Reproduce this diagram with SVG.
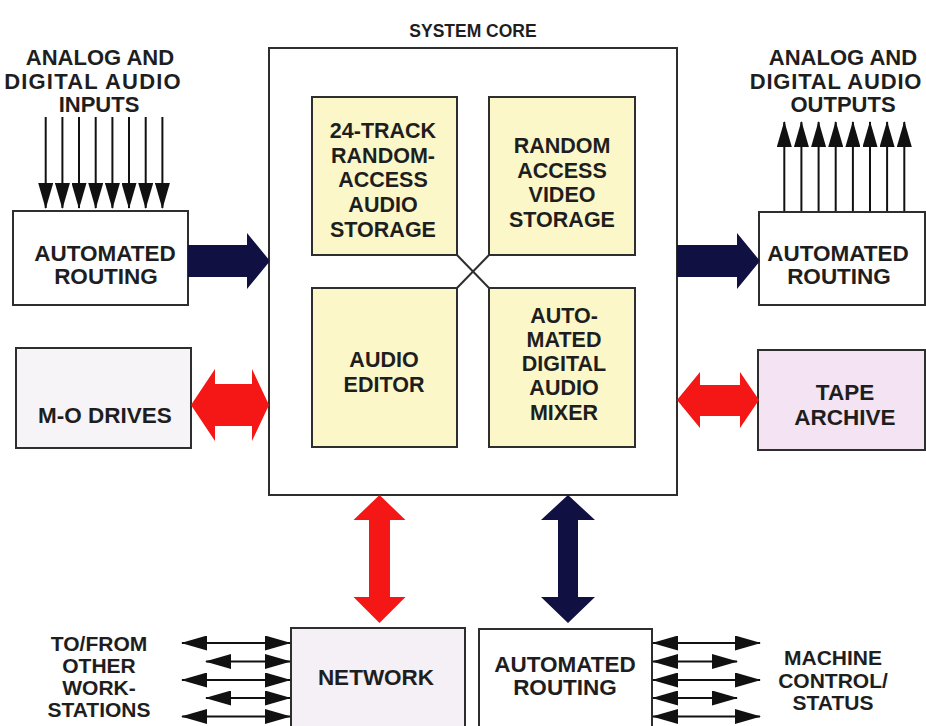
<svg xmlns="http://www.w3.org/2000/svg" width="926" height="726" viewBox="0 0 926 726">
<defs>
<style>
text{font-family:"Liberation Sans",Arial,sans-serif;font-weight:bold;fill:#1e1e1e;text-anchor:middle}
.t22{font-size:22.5px}
.t21{font-size:21.5px}
.lbl{font-size:22px}
.lbs{font-size:21px}
.box{stroke:#2e2e2e;stroke-width:2}
.inner{fill:#fbf7c8;stroke:#2e2e2e;stroke-width:2}
.ln{stroke:#111;stroke-width:2;fill:none}
.red{fill:#f51616}
.navy{fill:#101042}
</style>
<marker id="ah" markerUnits="userSpaceOnUse" markerWidth="26" markerHeight="15" refX="25" refY="7.5" orient="auto-start-reverse" viewBox="0 0 26 15">
<path d="M0,0 L26,7.5 L0,15 z" fill="#111"/>
</marker>
</defs>
<rect width="926" height="726" fill="#ffffff"/>

<g id="labels">
<text x="473" y="37" style="font-size:17.5px">SYSTEM CORE</text>
<text class="lbl" x="100" y="65">ANALOG AND</text>
<text class="lbl" x="93" y="88.5" letter-spacing="1.2">DIGITAL AUDIO</text>
<text class="lbl" x="99" y="112">INPUTS</text>
<text class="lbl" x="843" y="65">ANALOG AND</text>
<text class="lbl" x="836" y="88.5" letter-spacing="0.8">DIGITAL AUDIO</text>
<text class="lbl" x="843" y="112">OUTPUTS</text>
<text class="lbs" x="99" y="651">TO/FROM</text>
<text class="lbs" x="99" y="673">OTHER</text>
<text class="lbs" x="99" y="695">WORK-</text>
<text class="lbs" x="99" y="717">STATIONS</text>
<text class="lbs" x="833" y="665">MACHINE</text>
<text class="lbs" x="833" y="687.5">CONTROL/</text>
<text class="lbs" x="833" y="710">STATUS</text>
</g>

<g id="core">
<rect class="box" x="269" y="48" width="408" height="447" fill="#ffffff"/>
</g>

<g id="audio-storage">
<rect class="inner" x="312" y="97" width="145" height="158"/>
<text class="t21" x="383" y="138">24-TRACK</text>
<text class="t21" x="383" y="162.5">RANDOM-</text>
<text class="t21" x="383" y="187">ACCESS</text>
<text class="t21" x="383" y="212">AUDIO</text>
<text class="t21" x="383" y="237">STORAGE</text>
</g>
<g id="video-storage">
<rect class="inner" x="489" y="97" width="146" height="158"/>
<text class="t21" x="562" y="153">RANDOM</text>
<text class="t21" x="562" y="177.5">ACCESS</text>
<text class="t21" x="562" y="202">VIDEO</text>
<text class="t21" x="562" y="227">STORAGE</text>
</g>
<g id="audio-editor">
<rect class="inner" x="312" y="288" width="145" height="159"/>
<text class="t21" x="384" y="367">AUDIO</text>
<text class="t21" x="384" y="392">EDITOR</text>
</g>
<g id="mixer">
<rect class="inner" x="489" y="288" width="146" height="159"/>
<text class="t21" x="564" y="323">AUTO-</text>
<text class="t21" x="564" y="347">MATED</text>
<text class="t21" x="564" y="371">DIGITAL</text>
<text class="t21" x="564" y="395">AUDIO</text>
<text class="t21" x="564" y="420">MIXER</text>
</g>

<g id="routing-in">
<rect class="box" x="13" y="211" width="175" height="94" fill="#ffffff"/>
<text class="t22" x="105" y="261">AUTOMATED</text>
<text class="t22" x="106" y="284">ROUTING</text>
</g>
<g id="routing-out">
<rect class="box" x="759" y="212" width="166" height="93" fill="#ffffff"/>
<text class="t22" x="838" y="261">AUTOMATED</text>
<text class="t22" x="839" y="284">ROUTING</text>
</g>
<g id="mo-drives">
<rect class="box" x="16" y="348" width="175" height="100" fill="#f7f4f8"/>
<text class="t22" x="105" y="423">M-O DRIVES</text>
</g>
<g id="tape-archive">
<rect class="box" x="758" y="350" width="167" height="100" fill="#f3e3f3"/>
<text class="t22" x="845" y="400">TAPE</text>
<text class="t22" x="845" y="425">ARCHIVE</text>
</g>
<g id="network">
<rect class="box" x="291" y="628" width="174" height="110" fill="#f5eff6"/>
<text class="t22" x="376" y="685">NETWORK</text>
</g>
<g id="routing-ctl">
<rect class="box" x="479" y="629" width="173" height="110" fill="#ffffff"/>
<text class="t22" x="565" y="672">AUTOMATED</text>
<text class="t22" x="565" y="695">ROUTING</text>
</g>

<g id="connectors">
<g class="ln" marker-end="url(#ah)">
<line x1="45.7" y1="117" x2="45.7" y2="208"/>
<line x1="62.4" y1="117" x2="62.4" y2="208"/>
<line x1="79" y1="117" x2="79" y2="208"/>
<line x1="95.7" y1="117" x2="95.7" y2="208"/>
<line x1="112.4" y1="117" x2="112.4" y2="208"/>
<line x1="129" y1="117" x2="129" y2="208"/>
<line x1="145.7" y1="117" x2="145.7" y2="208"/>
<line x1="162.4" y1="117" x2="162.4" y2="208"/>
<line x1="784.3" y1="211" x2="784.3" y2="122"/>
<line x1="801.4" y1="211" x2="801.4" y2="122"/>
<line x1="818.6" y1="211" x2="818.6" y2="122"/>
<line x1="835.7" y1="211" x2="835.7" y2="122"/>
<line x1="852.9" y1="211" x2="852.9" y2="122"/>
<line x1="870" y1="211" x2="870" y2="122"/>
<line x1="887.1" y1="211" x2="887.1" y2="122"/>
<line x1="904.3" y1="211" x2="904.3" y2="122"/>
</g>
<g class="ln" marker-start="url(#ah)" marker-end="url(#ah)">
<line x1="182" y1="643" x2="290" y2="643"/>
<line x1="206" y1="661.5" x2="290" y2="661.5"/>
<line x1="182" y1="680" x2="290" y2="680"/>
<line x1="206" y1="698" x2="290" y2="698"/>
<line x1="182" y1="716.5" x2="290" y2="716.5"/>
<line x1="653" y1="643" x2="760" y2="643"/>
<line x1="653" y1="661.5" x2="737" y2="661.5"/>
<line x1="653" y1="680" x2="760" y2="680"/>
<line x1="653" y1="698" x2="737" y2="698"/>
<line x1="653" y1="716.5" x2="760" y2="716.5"/>
</g>
<polygon class="navy" points="188,245 247,245 247,233 270,261 247,289 247,277 188,277"/>
<polygon class="navy" points="677,245 737,245 737,233 760,261 737,289 737,277 677,277"/>
<polygon class="red" points="191,405 215,369 215,384 252,384 252,369 269,405 252,441 252,426 215,426 215,441"/>
<polygon class="red" points="677,400 700,372 700,385 740,385 740,372 759,400 740,428 740,416 700,416 700,428"/>
<polygon class="red" points="379.5,495 405.5,520 390,520 390,597 405.5,597 379.5,623 353.5,597 369,597 369,520 353.5,520"/>
<polygon class="navy" points="568,495 595,520 578,520 578,597 595,597 568,623 541,597 558,597 558,520 541,520"/>
<line x1="457" y1="255" x2="489" y2="288" stroke="#2e2e2e" stroke-width="2"/>
<line x1="489" y1="255" x2="457" y2="288" stroke="#2e2e2e" stroke-width="2"/>
</g>
</svg>
